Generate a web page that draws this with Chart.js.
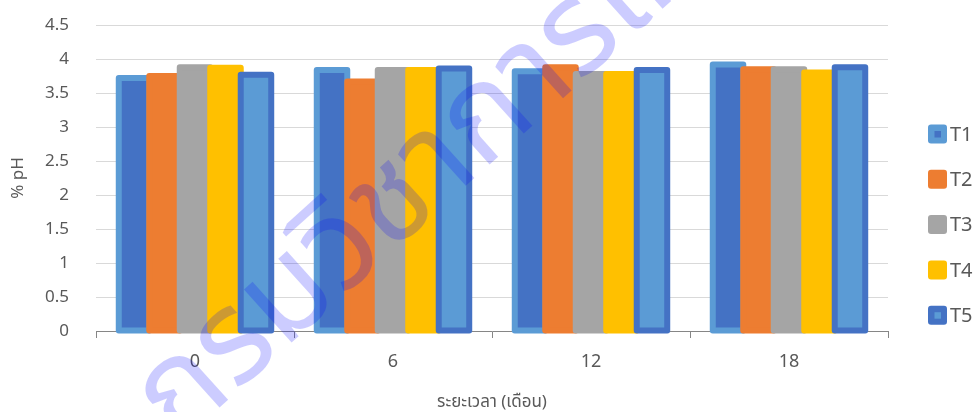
<!DOCTYPE html>
<html>
<head>
<meta charset="utf-8">
<script src="https://cdn.jsdelivr.net/npm/chart.js@4.4.1/dist/chart.umd.min.js"></script>
<style>
  html, body { margin: 0; padding: 0; background: #fff; }
  #wrap { width: 974px; height: 412px; position: relative; }
</style>
</head>
<body>
<div id="wrap"><canvas id="chart"></canvas></div>
<script>
  // ---- data ----
  var months = ['0', '6', '12', '18'];
  var seriesNames = ['T1', 'T2', 'T3', 'T4', 'T5'];
  var t1 = [3.72, 3.84, 3.82, 3.92];
  var t2 = [3.75, 3.67, 3.88, 3.85];
  var t3 = [3.88, 3.84, 3.78, 3.85];
  var t4 = [3.87, 3.84, 3.78, 3.80];
  var t5 = [3.77, 3.86, 3.84, 3.88];
  var yTicks = [0, 0.5, 1, 1.5, 2, 2.5, 3, 3.5, 4, 4.5];

  var FILL = ['#4472C4', '#ED7D31', '#A5A5A5', '#FFC000', '#5B9BD5'];
  var EDGE = ['#5B9BD5', '#ED7D31', '#A5A5A5', '#FFC000', '#4472C4'];
  var TEXT = '#595959';
  var FONT = '"Noto Sans", "Noto Sans Thai", "Leelawadee UI", sans-serif';
  var WATERMARK = 'กรมวิชาการเกษตร';

  // Excel-style bars: border centred on the bar edge, series painted T1 -> T5
  var excelBars = {
    id: 'excelBars',
    beforeDatasetsDraw: function (chart) {
      var ctx = chart.ctx;
      ctx.save();
      chart.data.datasets.forEach(function (ds, i) {
        var meta = chart.getDatasetMeta(i);
        meta.data.forEach(function (el) {
          var p = el.getProps(['x', 'y', 'base', 'width'], true);
          var left = p.x - p.width / 2;
          ctx.fillStyle = FILL[i];
          ctx.fillRect(left, p.y, p.width, p.base - p.y);
          ctx.lineWidth = 6;
          ctx.lineJoin = 'round';
          ctx.strokeStyle = EDGE[i];
          ctx.strokeRect(left, p.y, p.width, p.base - p.y);
        });
      });
      ctx.restore();
      return false;
    }
  };

  var sideLegend = {
    id: 'sideLegend',
    afterDraw: function (chart) {
      var ctx = chart.ctx;
      ctx.save();
      seriesNames.forEach(function (name, i) {
        var cy = 134 + i * 45.3;
        ctx.fillStyle = EDGE[i];
        ctx.beginPath();
        ctx.roundRect(928, cy - 9.5, 19, 19, 3);
        ctx.fill();
        if (EDGE[i] !== FILL[i]) {
          ctx.fillStyle = FILL[i];
          ctx.fillRect(934.5, cy - 3, 6.5, 6.5);
        }
        ctx.fillStyle = TEXT;
        ctx.font = '20px ' + FONT;
        ctx.textBaseline = 'middle';
        ctx.fillText(name, 950, cy + 1);
      });
      ctx.restore();
    }
  };

  var watermark = {
    id: 'watermark',
    afterDraw: function (chart) {
      var ctx = chart.ctx;
      ctx.save();
      ctx.translate(178, 445);
      ctx.rotate(-42 * Math.PI / 180);
      ctx.font = '130px ' + FONT;
      ctx.fillStyle = 'rgba(0, 0, 255, 0.2)';
      ctx.textBaseline = 'alphabetic';
      ctx.fillText(WATERMARK, 0, 0);
      ctx.restore();
    }
  };

  var sets = [t1, t2, t3, t4, t5].map(function (vals, i) {
    return {
      label: seriesNames[i], data: vals,
      backgroundColor: FILL[i], borderColor: EDGE[i], borderWidth: 0,
      categoryPercentage: 0.77, barPercentage: 1
    };
  });

  new Chart(document.getElementById('chart'), {
    type: 'bar',
    data: { labels: months, datasets: sets },
    plugins: [excelBars, sideLegend, watermark],
    options: {
      responsive: true, maintainAspectRatio: false, animation: false,
      layout: { padding: { top: 25, right: 86, left: 0, bottom: 0 } },
      plugins: { legend: { display: false }, tooltip: { enabled: false } },
      scales: {
        x: {
          offset: true,
          afterFit: function (s) { s.height = 81; },
          grid: { display: true, drawOnChartArea: false, drawTicks: true, tickLength: 7, color: '#868686', offset: true },
          border: { display: true, color: '#868686' },
          ticks: { color: TEXT, font: { family: FONT, size: 18 }, padding: 13 },
          title: { display: true, text: 'ระยะเวลา (เดือน)', color: TEXT, font: { family: FONT, size: 17 }, padding: { top: 0, bottom: 0 } }
        },
        y: {
          min: yTicks[0], max: yTicks[yTicks.length - 1],
          afterFit: function (s) { s.width = 96; s.paddingTop = 0; s.paddingBottom = 0; },
          afterBuildTicks: function (s) { s.ticks = yTicks.map(function (v) { return { value: v }; }); },
          grid: { color: '#d9d9d9', drawTicks: false },
          border: { display: false },
          ticks: { color: TEXT, font: { family: FONT, size: 17 }, padding: 27,
            callback: function (v) { return String(v); } },
          title: { display: true, text: '% pH', color: TEXT, font: { family: FONT, size: 17 }, padding: { top: 8, bottom: 0 } }
        }
      }
    }
  });
</script>
</body>
</html>
